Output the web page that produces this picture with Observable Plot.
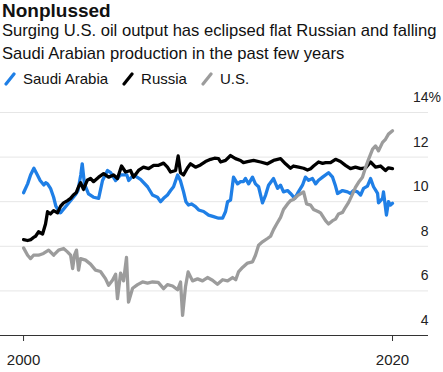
<!DOCTYPE html>
<html>
<head>
<meta charset="utf-8">
<script src="https://cdn.jsdelivr.net/npm/d3@7"></script>
<script src="https://cdn.jsdelivr.net/npm/@observablehq/plot@0.6"></script>
<style>
  html, body { margin: 0; padding: 0; background: #fff; }
  body { width: 443px; height: 372px; overflow: hidden; font-family: "Liberation Sans", Arial, Helvetica, sans-serif; color: #111; }
  #head { position: relative; height: 89px; }
  #title { position: absolute; left: 2px; top: 0px; font-size: 19px; line-height: 22px; font-weight: bold; }
  #sub { position: absolute; left: 2px; top: 19px; font-size: 16.6px; line-height: 23px; white-space: nowrap; }
  #legend { position: absolute; left: 4px; top: 69px; font-size: 15px; line-height: 20px; white-space: nowrap; display: flex; align-items: center; }
  #legend .item { display: inline-flex; align-items: center; margin-right: 14px; }
  #legend svg { margin-right: 7px; }
</style>
</head>
<body>
<div id="head">
  <div id="title">Nonplussed</div>
  <div id="sub">Surging U.S. oil output has eclipsed flat Russian and falling<br>Saudi Arabian production in the past few years</div>
  <div id="legend"></div>
</div>
<div id="chart"></div>
<script>
// ---- data (share of world oil output, %) ----
const seriesNames = ["Saudi Arabia", "Russia", "U.S."];
const seriesColors = ["#1f7fe6", "#000000", "#9c9c9c"];

const saudiYears = [2000.0,2000.22,2000.38,2000.56,2000.75,2000.9,2001.1,2001.2,2001.3,2001.46,2001.63,2001.75,2001.9,2002.0,2002.2,2002.4,2002.6,2002.8,2002.95,2003.1,2003.18,2003.3,2003.52,2003.79,2004.07,2004.28,2004.55,2004.72,2004.99,2005.26,2005.6,2005.7,2005.96,2006.34,2006.72,2006.99,2007.26,2007.43,2007.59,2007.8,2007.97,2008.13,2008.35,2008.5,2008.67,2008.8,2008.94,2009.1,2009.32,2009.49,2009.76,2010.03,2010.3,2010.57,2010.79,2010.95,2011.06,2011.22,2011.38,2011.6,2011.76,2011.92,2012.03,2012.2,2012.41,2012.57,2012.74,2012.95,2013.12,2013.28,2013.55,2013.77,2013.93,2014.09,2014.31,2014.47,2014.7,2014.85,2015.12,2015.28,2015.45,2015.66,2015.83,2015.99,2016.21,2016.53,2016.75,2016.91,2017.02,2017.29,2017.56,2017.72,2017.89,2018.1,2018.27,2018.43,2018.64,2018.81,2018.97,2019.19,2019.24,2019.46,2019.51,2019.67,2019.78,2019.89,2020.0];
const saudiValues = [10.4,10.8,11.2,11.5,11.2,10.95,10.75,10.85,10.8,10.6,10.2,9.8,9.6,9.5,9.7,9.9,10.1,10.3,10.5,11.2,11.7,10.8,10.35,10.2,10.15,10.95,11.4,11.3,10.95,11.2,11.2,10.95,11.2,11.0,10.67,10.3,10.2,10.0,10.15,10.3,10.5,10.67,11.2,10.95,10.45,10.0,9.85,9.9,9.78,9.63,9.56,9.4,9.33,9.26,9.26,9.56,10.0,10.07,11.1,10.8,10.9,10.9,11.04,10.8,11.1,10.8,10.67,9.95,10.3,10.74,11.04,10.6,10.74,10.44,10.5,10.37,10.15,10.37,10.74,11.1,10.96,11.04,10.8,10.96,11.1,11.3,11.1,10.7,10.37,10.5,10.44,10.37,10.5,10.44,10.3,10.6,10.7,11.04,10.67,10.37,9.95,10.15,10.44,9.4,10.0,9.85,9.93];

const russiaYears = [2000.0,2000.22,2000.4,2000.54,2000.65,2000.81,2001.03,2001.19,2001.3,2001.46,2001.63,2001.84,2002.01,2002.17,2002.38,2002.55,2002.7,2002.85,2002.98,2003.09,2003.25,2003.45,2003.63,2003.79,2004.07,2004.34,2004.61,2004.88,2005.09,2005.31,2005.53,2005.8,2005.96,2006.23,2006.5,2006.78,2007.05,2007.32,2007.59,2007.8,2007.97,2008.24,2008.38,2008.51,2008.67,2008.89,2009.05,2009.32,2009.59,2009.86,2010.14,2010.35,2010.57,2010.68,2010.95,2011.22,2011.49,2011.76,2011.92,2012.14,2012.47,2012.85,2013.22,2013.55,2013.93,2014.2,2014.47,2014.63,2014.91,2015.18,2015.39,2015.56,2015.72,2015.99,2016.21,2016.37,2016.64,2016.91,2017.18,2017.45,2017.72,2017.99,2018.27,2018.54,2018.81,2019.08,2019.35,2019.62,2019.78,2020.0];
const russiaValues = [8.3,8.26,8.3,8.4,8.45,8.65,8.55,9.0,9.55,9.45,9.6,9.5,9.8,9.95,10.05,10.15,10.3,10.4,10.67,10.85,10.55,10.96,11.04,10.9,11.1,11.26,11.1,11.2,11.04,11.6,11.33,11.4,11.1,11.4,11.55,11.48,11.63,11.63,11.73,11.55,11.33,11.4,12.05,11.3,11.2,11.52,11.7,11.55,11.65,11.8,11.9,11.95,11.93,11.78,11.85,12.07,11.93,11.85,11.75,11.8,11.85,11.78,11.7,11.85,11.93,11.7,11.5,11.6,11.55,11.5,11.42,11.48,11.6,11.78,11.72,11.75,11.75,11.9,11.8,11.63,11.48,11.55,11.48,11.52,11.78,11.55,11.6,11.4,11.52,11.48];

const usYears = [2000.0,2000.22,2000.38,2000.54,2000.81,2001.08,2001.36,2001.63,2001.9,2002.17,2002.38,2002.55,2002.66,2002.76,2002.87,2002.98,2003.09,2003.36,2003.63,2003.9,2004.17,2004.44,2004.61,2004.82,2004.99,2005.09,2005.26,2005.42,2005.58,2005.69,2005.91,2006.18,2006.45,2006.72,2006.99,2007.3,2007.59,2007.8,2008.08,2008.35,2008.51,2008.62,2008.78,2008.92,2009.16,2009.43,2009.7,2009.97,2010.24,2010.51,2010.79,2011.06,2011.33,2011.5,2011.65,2011.87,2012.14,2012.41,2012.57,2012.74,2012.95,2013.22,2013.39,2013.55,2013.72,2013.93,2014.09,2014.31,2014.47,2014.63,2014.85,2015.01,2015.18,2015.34,2015.56,2015.72,2015.99,2016.1,2016.37,2016.53,2016.75,2016.91,2017.07,2017.29,2017.45,2017.62,2017.83,2017.99,2018.16,2018.37,2018.54,2018.7,2018.92,2019.08,2019.24,2019.46,2019.62,2019.78,2020.0];
const usValues = [7.93,7.6,7.45,7.6,7.6,7.68,7.83,7.6,7.83,7.9,7.75,7.6,7.0,7.6,7.83,6.93,7.45,7.38,7.2,6.93,6.87,6.55,6.25,6.48,6.75,5.65,6.8,6.45,7.5,5.5,6.12,6.28,6.4,6.35,6.4,6.38,6.1,6.28,6.22,6.05,6.4,4.9,6.2,6.85,6.45,6.54,6.45,6.6,6.48,6.3,6.5,6.45,6.6,6.5,6.85,7.05,7.25,7.3,7.6,8.05,8.2,8.35,8.45,8.75,9.0,9.3,9.65,9.9,10.05,10.1,10.27,10.35,10.44,9.9,9.85,9.65,9.55,9.5,9.15,9.0,9.15,9.22,9.45,9.52,9.75,9.97,10.34,10.64,10.87,11.1,11.54,11.9,12.36,12.5,12.28,12.66,12.8,13.03,13.18];

const yTicks = [4, 6, 8, 10, 12, 14];
const xTicks = [2000, 2020];
const unitTick = [14];

// ---- tidy table ----
const rows = [];
[[saudiYears, saudiValues], [russiaYears, russiaValues], [usYears, usValues]].forEach(([ys, vs], i) => {
  ys.forEach((y, j) => rows.push({ series: seriesNames[i], year: y, value: vs[j] }));
});

// ---- legend ----
const legend = document.getElementById("legend");
seriesNames.forEach((name, i) => {
  const item = document.createElement("span");
  item.className = "item";
  item.innerHTML = `<svg width="12" height="14" viewBox="0 0 12 14"><line x1="2" y1="12" x2="10" y2="2" stroke="${seriesColors[i]}" stroke-width="3.2" stroke-linecap="round"/></svg>${name}`;
  legend.appendChild(item);
});

// ---- chart ----
const chart = Plot.plot({
  width: 443,
  height: 283,
  marginLeft: 0,
  marginRight: 15,
  marginTop: 23,
  marginBottom: 37,
  style: { fontFamily: "'Liberation Sans', Arial, sans-serif", fontSize: "14px", color: "#222", background: "#fff", overflow: "visible" },
  x: { domain: [1998.75, 2021.95] },
  y: { domain: [4, 14] },
  color: { domain: seriesNames, range: seriesColors },
  marks: [
    Plot.ruleY(yTicks.filter(d => d > 4), { stroke: "#e6e6e6", strokeWidth: 1 }),
    Plot.axisY(yTicks, {
      anchor: "right", tickSize: 0, tickPadding: 0, dx: 0, dy: -15,
      textAnchor: "end", label: null, fontSize: 14, fill: "#222",
      tickFormat: d => String(d)
    }),
    Plot.text(unitTick, {
      y: d => d, frameAnchor: "right", text: () => "%", textAnchor: "start",
      dy: -15, fontSize: 14, fill: "#222"
    }),
    Plot.line(rows, {
      x: "year", y: "value", z: "series", stroke: "series",
      strokeWidth: 3.3, strokeLinejoin: "round", strokeLinecap: "round", curve: "linear"
    }),
    Plot.ruleY([4], { stroke: "#333", strokeWidth: 1.2 }),
    Plot.axisX(xTicks, {
      anchor: "bottom", tickSize: 6, tickPadding: 13, label: null,
      tickFormat: d => String(d), fontSize: 15, fill: "#222", stroke: "#333"
    })
  ]
});
document.getElementById("chart").appendChild(chart);
</script>
</body>
</html>
